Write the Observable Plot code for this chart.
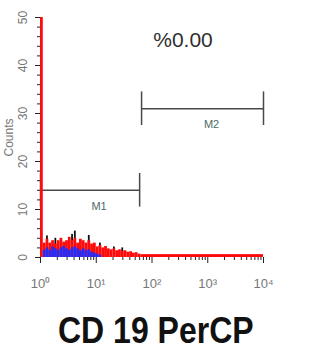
<!DOCTYPE html>
<html><head><meta charset="utf-8">
<script src="https://cdn.jsdelivr.net/npm/d3@7"></script>
<script src="https://cdn.jsdelivr.net/npm/@observablehq/plot@0.6"></script>
<style>
body{margin:0;background:#fff;}
#chart{width:333px;height:362px;position:relative;overflow:hidden;}
#chart svg{display:block;}
.title{position:absolute;left:58px;top:312px;font-family:"Liberation Sans Narrow","Arial Narrow","Liberation Sans",sans-serif;font-weight:bold;font-size:32px;color:#111;transform:scaleY(1.15);transform-origin:left top;white-space:nowrap;line-height:1;}
</style></head><body><div id="chart"></div><script>
// histogram bin edges (log10 of fluorescence)
const binEdgesLog = [0,0.05,0.10,0.15,0.20,0.25,0.30,0.35,0.40,0.45,0.50,0.55,0.60,0.65,0.70,0.75,0.80,0.85,0.90,0.95,1.00,1.05,1.10,1.15,1.20,1.25,1.30,1.35,1.40,1.45,1.50,1.55,1.60,1.65,1.70,1.75,1.80,4.00];
// counts per bin
const redCounts = [60, 3,3.8,3,3.5,2.8,3.5,4,3.2,3.5,4.2,3.5,4,3,3.8,3.5,3,3.5,2.8,3,2.2,2.5,2,2.3,1.8,1.6,1.8,1.4,1.6,1.3,1.4,1.1,1.2,0.9,1,0.7, 0.6];
const blackCounts = [0, 0,4.5,0,0,4,0,0,0,0,0,4.8,5.5,0,0,0,0,4.6,0,0,0,3,0,0,0,0,2.2,0,0,2,0,0,0,0,0,0, 0];
const blueCounts = [0, 1.5,2,1.5,2.2,1.8,1.5,2,2.3,1.8,1.5,2,2.2,1.8,1.4,1.8,1.4,1.6,1.1,0.9,0.7,0.5,0,0,0,0,0,0,0,0,0,0,0,0,0,0, 0];
// markers (gates)
const gateNames = ["M1","M2"];
const gateLo = [1, 65];
const gateHi = [60, 10000];
const gateLevel = [14, 31];
const statText = "%0.00";
const xMajorTicks = [1,10,100,1000,10000];
const xTickLabels = ["10\u2070","10\u00b9","10\u00b2","10\u00b3","10\u2074"];
const yMajorTicks = [0,10,20,30,40,50];
const yMinorTicks = [2,4,6,8,12,14,16,18,22,24,26,28,32,34,36,38,42,44,46,48];
const titleText = "CD 19 PerCP";

const bins = redCounts.map((r,i)=>({
  x1: Math.pow(10, binEdgesLog[i]), x2: Math.pow(10, binEdgesLog[i+1]),
  red: r, black: blackCounts[i], blue: blueCounts[i]
}));
const gates = gateNames.map((n,i)=>({name:n, lo:gateLo[i], hi:gateHi[i], level:gateLevel[i], mid:Math.sqrt(gateLo[i]*gateHi[i])}));
const gateEnds = gates.flatMap(g=>[{x:g.lo,level:g.level},{x:g.hi,level:g.level}]);
const xMinor = [];
[1,10,100,1000].forEach(d=>[2,3,4,5,6,7,8,9].forEach(k=>xMinor.push(d*k)));
const xLabelMap = new Map(xMajorTicks.map((v,i)=>[v, xTickLabels[i]]));

const chart = Plot.plot({
  width: 333, height: 300,
  marginLeft: 40, marginRight: 70, marginTop: 17, marginBottom: 43,
  style: {fontFamily: "'Liberation Sans', Arial, sans-serif", background: "#fff"},
  x: {type: "log", domain: [1, 10000]},
  y: {domain: [0, 50]},
  marks: [
    Plot.ruleY(gates, {x1: "lo", x2: "hi", y: "level", stroke: "#484848", strokeWidth: 1.5}),
    Plot.ruleX(gateEnds, {x: "x", y1: d=>d.level-3.5, y2: d=>d.level+3.5, stroke: "#484848", strokeWidth: 1.5}),
    Plot.text(gates, {x: "mid", y: "level", text: "name", dx: 9, dy: 16, fill: "#4d6b68", fontSize: 11}),
    Plot.rectY(bins, {x1: "x1", x2: "x2", y: "black", fill: "#111", insetLeft: 0.5, insetRight: 0.5, clip: true}),
    Plot.rectY(bins, {x1: "x1", x2: "x2", y: "red", fill: "#ff0a0a", clip: true}),
    Plot.rectY(bins, {x1: "x1", x2: "x2", y: "blue", fill: "#2a2af0", clip: true}),
    Plot.axisX({ticks: xMinor, tickSize: 3, tickFormat: () => "", stroke: "#222", label: null}),
    Plot.axisX({ticks: xMajorTicks, tickSize: 6, tickPadding: 15, tickFormat: d => xLabelMap.get(d), fontSize: 13, fill: "#777", stroke: "#222", label: null}),
    Plot.axisY({ticks: yMinorTicks, tickSize: 3, tickFormat: () => "", stroke: "#222", label: null}),
    Plot.axisY({ticks: yMajorTicks, tickSize: 5, tickRotate: -90, tickPadding: 9, fontSize: 12, fill: "#777", stroke: "#222", label: "Counts", labelAnchor: "center", labelArrow: "none", labelOffset: 36, fontSize: 12}),
    Plot.text([statText], {frameAnchor: "top", text: d=>d, dx: 31, dy: 23, fontSize: 21, fill: "#2e2e2e", lineAnchor: "middle"})
  ]
});
const host = document.getElementById("chart");
host.appendChild(chart);
const t = document.createElement("div");
t.className = "title";
t.textContent = titleText;
host.appendChild(t);
</script></body></html>
